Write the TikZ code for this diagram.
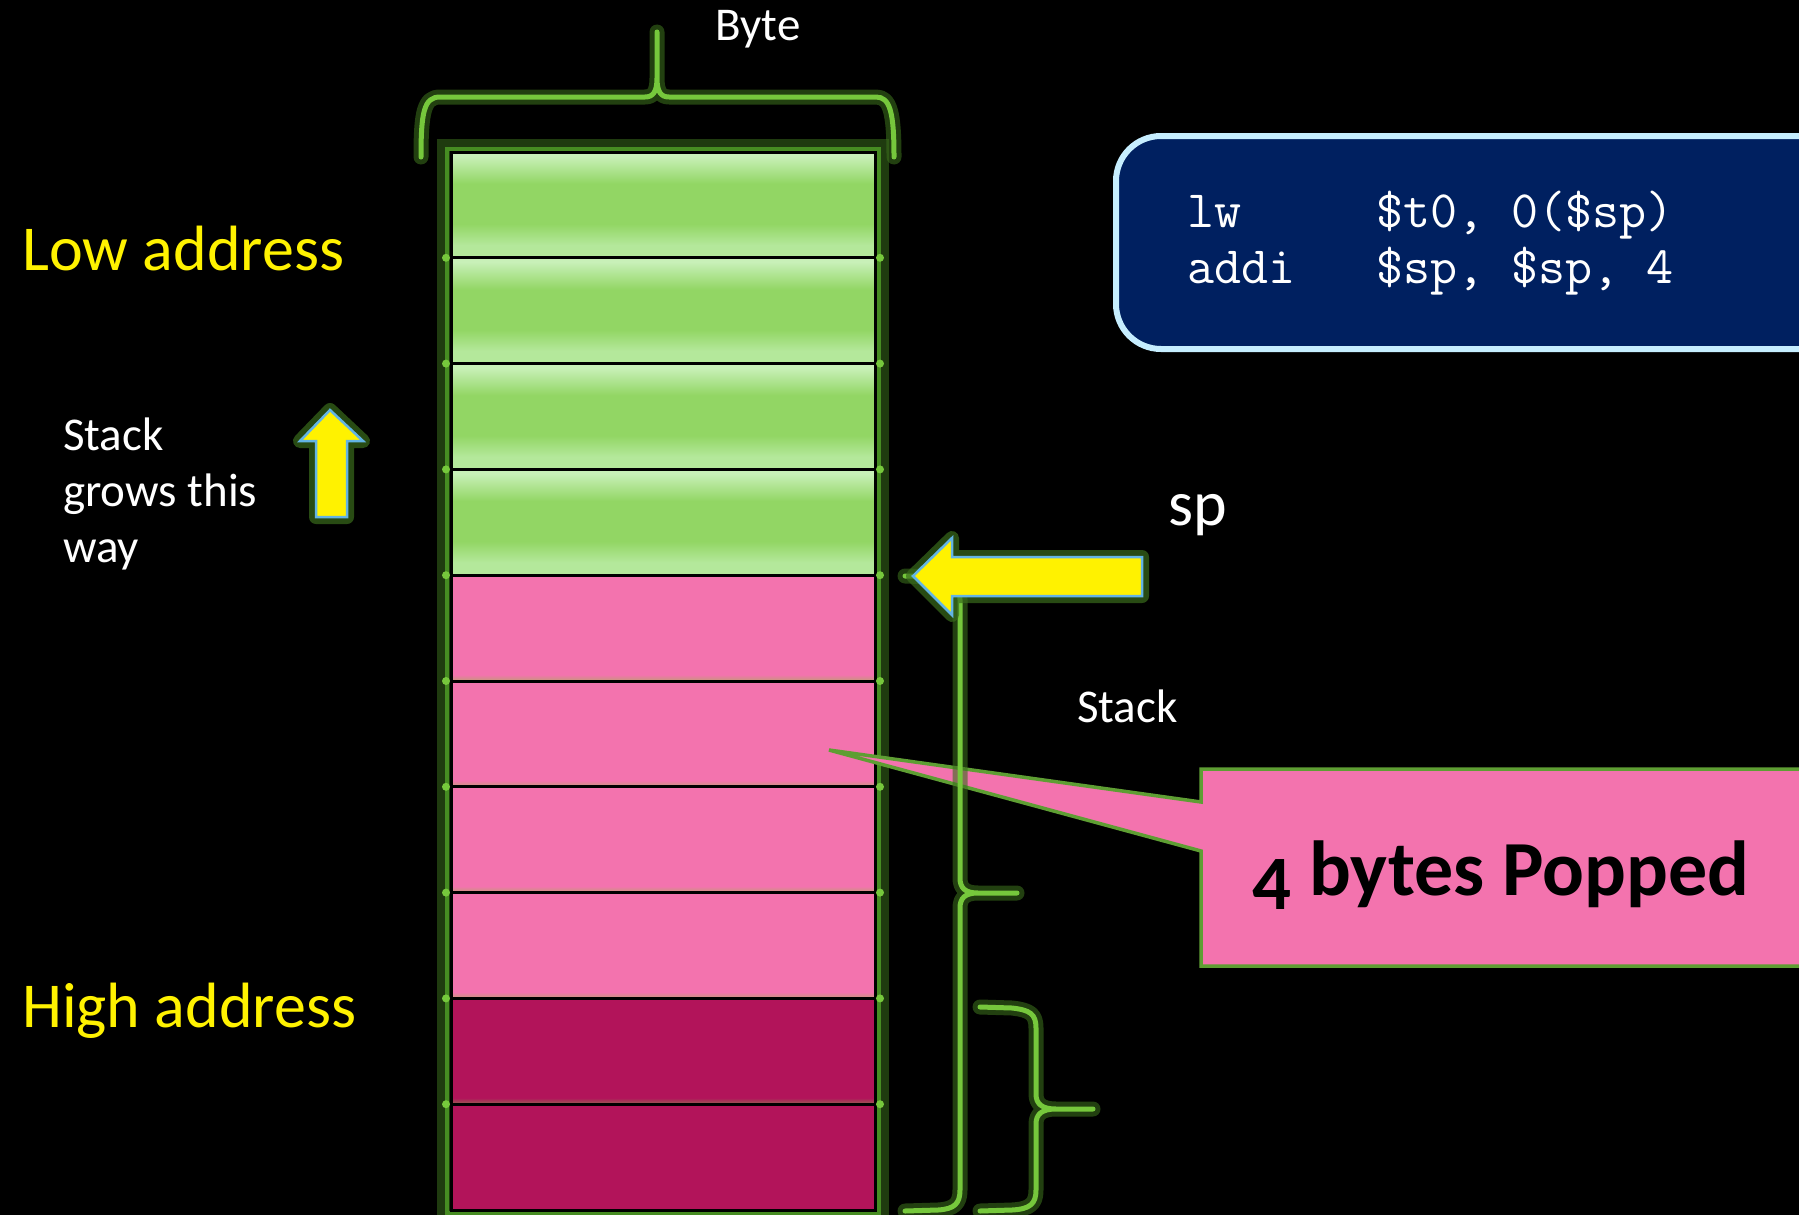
\documentclass[tikz,border=0pt]{standalone}
\usepackage{fontspec}
\setmainfont{Carlito}

\newlength{\du}
\setlength{\du}{1pt}

\definecolor{bracegreen}{RGB}{118,200,60}
\definecolor{glowgreen}{RGB}{58,108,28}
\definecolor{sidegreen}{RGB}{70,140,34}
\definecolor{cellgreen}{RGB}{146,214,100}
\definecolor{celllight}{RGB}{200,240,184}
\definecolor{cellpale}{RGB}{180,232,155}
\definecolor{cellpink}{RGB}{243,115,174}
\definecolor{celldark}{RGB}{178,20,90}
\definecolor{celltan}{RGB}{196,154,120}
\definecolor{cellbrown}{RGB}{150,100,82}
\definecolor{codeblue}{RGB}{0,32,96}
\definecolor{codeedge}{RGB}{198,238,255}
\definecolor{arrowedge}{RGB}{99,180,228}
\definecolor{calloutedge}{RGB}{94,158,51}

% byte cells: light top, green body, paler bottom
\pgfdeclareverticalshading{greencell}{100bp}{color(0bp)=(cellpale); color(25bp)=(cellpale); color(31bp)=(cellpale); color(41bp)=(cellgreen); color(60bp)=(cellgreen); color(73bp)=(celllight); color(75bp)=(celllight); color(100bp)=(celllight)}
\pgfdeclareverticalshading{pinkcell}{100bp}{color(0bp)=(celltan); color(25bp)=(celltan); color(28bp)=(cellpink); color(75bp)=(cellpink); color(100bp)=(cellpink)}
\pgfdeclareverticalshading{darkcell}{100bp}{color(0bp)=(cellbrown); color(25bp)=(cellbrown); color(28bp)=(celldark); color(75bp)=(celldark); color(100bp)=(celldark)}

\tikzset{
  glowline/.style={draw=bracegreen, line width=5\du, line cap=round, line join=round,
    preaction={draw=glowgreen, line width=15\du, opacity=0.6, line cap=round, line join=round}},
  bytecell/.style={draw=black, line width=3\du, minimum width=424\du, minimum height=105.8\du, inner sep=0pt},
  greenbyte/.style={bytecell, shading=greencell},
  pinkbyte/.style={bytecell, shading=pinkcell},
  darkbyte/.style={bytecell, shading=darkcell},
  lastbyte/.style={bytecell, fill=celldark},
  blockarrow/.style={fill=yellow, draw=arrowedge, line width=2.5\du,
    preaction={draw=glowgreen, line width=14\du, opacity=0.7, line join=round}},
  addrlabel/.style={text=yellow, anchor=base west, inner sep=0pt, font=\fontsize{64}{70}\selectfont},
  notelabel/.style={text=white, anchor=base west, inner sep=0pt, align=left, font=\fontsize{47}{56}\selectfont},
}

\begin{document}
\begin{tikzpicture}
\pgftransformxscale{1.000000}
\pgftransformyscale{-1.000000}
\useasboundingbox (0\du,0\du) rectangle (1799\du,1215\du);
\fill[black] (0\du,0\du) rectangle (1799\du,1215\du);
\clip (0\du,0\du) rectangle (1799\du,1215\du);

% glow round the stack column
\draw[draw=sidegreen, line width=4\du, preaction={draw=glowgreen, line width=20\du, opacity=0.55}]
  (447\du,149\du) rectangle (879\du,1213\du);

% the ten byte cells, low address on top
\node[greenbyte] (c1) at (663\du,204.9\du) {};
\node[greenbyte] (c2) at (663\du,310.7\du) {};
\node[greenbyte] (c3) at (663\du,416.5\du) {};
\node[greenbyte] (c4) at (663\du,522.3\du) {};
\node[pinkbyte] (c5) at (663\du,628.1\du) {};
\node[pinkbyte] (c6) at (663\du,733.9\du) {};
\node[pinkbyte] (c7) at (663\du,839.7\du) {};
\node[pinkbyte] (c8) at (663\du,945.5\du) {};
\node[darkbyte] (c9) at (663\du,1051.3\du) {};
\node[lastbyte] (c10) at (663\du,1157.1\du) {};

% green beads where the cells meet
\foreach \y in {257.8,363.6,469.4,575.2,681.0,786.8,892.6,998.4,1104.2}{
  \fill[bracegreen] (446\du,\y\du) circle (4\du);
  \fill[bracegreen] (880\du,\y\du) circle (4\du);
}

% callout pointing into the popped word
\coordinate (poptip) at (829\du,750\du);
\filldraw[fill=cellpink, draw=calloutedge, line width=3.5\du, line join=miter]
  (1201\du,769\du) -- (1850\du,769\du) -- (1850\du,966\du) -- (1201\du,966\du)
  -- (1201\du,851\du) -- (poptip) -- (1201\du,802\du) -- cycle;
\node[anchor=base, inner sep=0pt, text=black, font=\bfseries\fontsize{78}{84}\selectfont] (popped)
  at (1501\du,895\du) {\raisebox{-14\du}{\fontsize{77}{80}\selectfont 4} bytes Popped};

% brace over one byte
\draw[glowline] (421\du,157\du) .. controls (421\du,112\du) and (424\du,97\du) .. (440\du,97\du)
  -- (645\du,97\du) .. controls (653\du,97\du) and (657\du,92\du) .. (657\du,78\du) -- (657\du,32\du)
  -- (657\du,78\du) .. controls (657\du,92\du) and (661\du,97\du) .. (669\du,97\du)
  -- (876\du,97\du) .. controls (890\du,97\du) and (894\du,112\du) .. (894\du,157\du);

% brace along the stack
\draw[glowline] (905\du,576\du) -- (938\du,577\du) .. controls (954\du,579\du) and (960\du,586\du) .. (960\du,600\du)
  -- (960\du,878\du) .. controls (960\du,888\du) and (965\du,893\du) .. (978\du,893\du) -- (1017\du,893\du)
  -- (978\du,893\du) .. controls (965\du,893\du) and (960\du,898\du) .. (960\du,908\du)
  -- (960\du,1190\du) .. controls (960\du,1204\du) and (954\du,1209\du) .. (938\du,1210\du) -- (905\du,1211\du);

% brace along the two bottom cells
\draw[glowline] (980\du,1007\du) -- (1012\du,1008\du) .. controls (1030\du,1010\du) and (1036\du,1014\du) .. (1036\du,1028\du)
  -- (1036\du,1094\du) .. controls (1036\du,1104\du) and (1042\du,1109\du) .. (1056\du,1109\du) -- (1093\du,1109\du)
  -- (1056\du,1109\du) .. controls (1042\du,1109\du) and (1036\du,1114\du) .. (1036\du,1124\du)
  -- (1036\du,1190\du) .. controls (1036\du,1204\du) and (1030\du,1209\du) .. (1012\du,1210\du) -- (980\du,1211\du);

% growth arrow
\filldraw[blockarrow] (330\du,410\du) -- (363\du,441\du) -- (347\du,441\du) -- (347\du,517\du)
  -- (316\du,517\du) -- (316\du,441\du) -- (300\du,441\du) -- cycle;

% stack pointer arrow
\filldraw[blockarrow] (913\du,576\du) -- (952\du,538\du) -- (952\du,557\du) -- (1142\du,557\du)
  -- (1142\du,596\du) -- (952\du,596\du) -- (952\du,615\du) -- cycle;

% labels
\node[addrlabel] (lowaddr) at (22\du,270\du) {Low address};
\node[addrlabel] (highaddr) at (22\du,1027\du) {High address};
\node[notelabel] (grows) at (63\du,562\du) {Stack\\grows this\\way};
\node[notelabel] (byte) at (715\du,41\du) {Byte};
\node[notelabel] (stack) at (1077\du,722\du) {Stack};
\node[addrlabel, text=white] (sp) at (1168\du,525\du) {sp};

% the two instructions
\filldraw[fill=codeblue, draw=codeedge, line width=6\du, rounded corners=45\du]
  (1116\du,136\du) rectangle (1860\du,349\du);
\node[anchor=base west, inner sep=0pt, align=left, text=white, font=\ttfamily\fontsize{52.5}{56}\selectfont] (code)
  at (1187\du,283\du) {lw\ \ \ \ \ \$t0, 0(\$sp)\\addi\ \ \ \$sp, \$sp, 4};
\end{tikzpicture}
\end{document}
